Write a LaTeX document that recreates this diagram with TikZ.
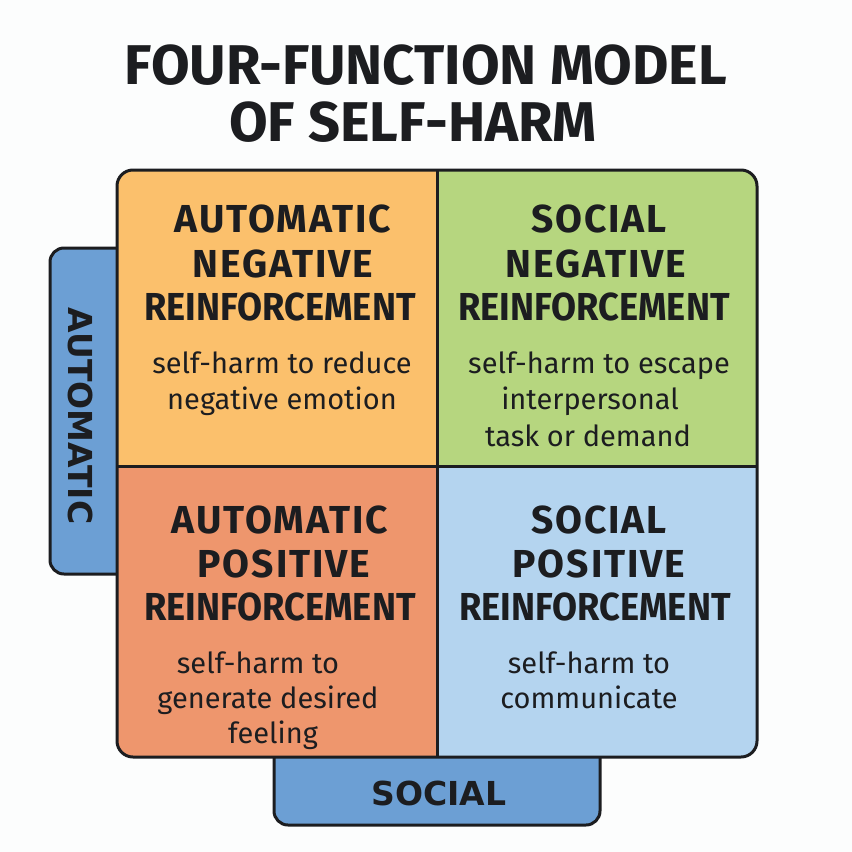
\documentclass[tikz,border=0pt]{standalone}
\usepackage{fontspec}
\setmainfont{Fira Sans}
\newfontfamily\tabfont{DejaVu Sans}
\newfontfamily\headfont[LetterSpace=5]{Fira Sans}
\definecolor{bg}{HTML}{FCFDFD}
\definecolor{ink}{HTML}{1C1D20}
\definecolor{cOrange}{HTML}{FBC06C}
\definecolor{cGreen}{HTML}{B6D67F}
\definecolor{cSalmon}{HTML}{EE966D}
\definecolor{cBlue}{HTML}{B4D4EF}
\definecolor{cTab}{HTML}{6C9FD4}
\newcommand{\reinf}{\scalebox{0.93}[1]{REINFORCEMENT}}
\tikzset{
  border/.style={draw=ink, line width=3pt},
  head/.style={anchor=base, text=ink, inner sep=0pt, font=\headfont\bfseries\fontsize{39}{44}\selectfont},
  headr/.style={anchor=base, text=ink, inner sep=0pt, font=\bfseries\fontsize{39}{44}\selectfont},
  body/.style={anchor=base, text=ink, inner sep=0pt, font=\fontsize{29}{36}\selectfont},
  ttl/.style={anchor=base, text=ink, inner sep=0pt, font=\bfseries\fontsize{56}{60}\selectfont},
  tabtext/.style={text=ink, inner sep=0pt, font=\tabfont\bfseries\fontsize{33}{40}\selectfont},
}
\begin{document}
\begin{tikzpicture}[x=1pt,y=-1pt]
\fill[bg] (0,0) rectangle (852,852);
\useasboundingbox (0,0) rectangle (852,852);
% title
\node[ttl] (t1) at (426,84) {FOUR-FUNCTION MODEL};
\node[ttl] (t2) at (413,141) {OF SELF-HARM};
% tabs
\draw[border, fill=cTab, rounded corners=14pt] (140,248) -- (50,248) -- (50,574) -- (140,574);
\draw[border, fill=cTab, rounded corners=14pt] (274,740) -- (274,825) -- (600,825) -- (600,740);
\node[tabtext, rotate=-90] (ta) at (81,416) {AUTOMATIC};
\node[tabtext, anchor=base] (ts) at (439,805) {SOCIAL};
% grid
\begin{scope}
\clip[rounded corners=16pt] (117,170) rectangle (757,757);
\fill[cOrange] (117,170) rectangle (437,466);
\fill[cGreen] (437,170) rectangle (757,466);
\fill[cSalmon] (117,466) rectangle (437,757);
\fill[cBlue] (437,466) rectangle (757,757);
\end{scope}
\coordinate (mt) at (437,170);
\coordinate (mb) at (437,757);
\coordinate (ml) at (117,466);
\coordinate (mr) at (757,466);
\draw[border] (mt) -- (mb);
\draw[border] (ml) -- (mr);
\draw[border, rounded corners=16pt] (117,170) rectangle (757,757);
% top-left
\node[head] (a1) at (283,232) {AUTOMATIC};
\node[head] (a2) at (283,277) {NEGATIVE};
\node[headr] (a3) at (280,320) {\reinf};
\node[body] (a4) at (282,373) {self-harm to reduce};
\node[body] (a5) at (282,409) {negative emotion};
% top-right
\node[head] (b1) at (599,232) {SOCIAL};
\node[head] (b2) at (596,277) {NEGATIVE};
\node[headr] (b3) at (594,320) {\reinf};
\node[body] (b4) at (599,373) {self-harm to escape};
\node[body] (b5) at (590,409) {interpersonal};
\node[body] (b6) at (588,446) {task or demand};
% bottom-left
\node[head] (c1) at (280,533) {AUTOMATIC};
\node[head] (c2) at (284,577) {POSITIVE};
\node[headr] (c3) at (280,620) {\reinf};
\node[body] (c4) at (258,673) {self-harm to};
\node[body] (c5) at (268,708) {generate desired};
\node[body] (c6) at (273,743) {feeling};
% bottom-right
\node[head] (d1) at (599,533) {SOCIAL};
\node[head] (d2) at (599,577) {POSITIVE};
\node[headr] (d3) at (595,620) {\reinf};
\node[body] (d4) at (589,673) {self-harm to};
\node[body] (d5) at (589,708) {communicate};
\end{tikzpicture}
\end{document}
